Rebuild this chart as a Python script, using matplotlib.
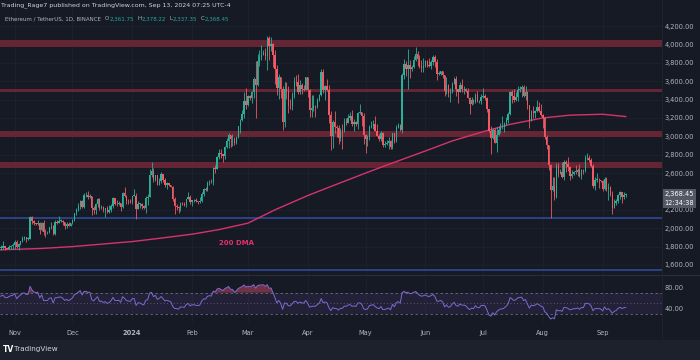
import numpy as np
import pandas as pd
import matplotlib
matplotlib.use('Agg')
import matplotlib.pyplot as plt
from matplotlib.patches import Rectangle

# ETH/USDT daily candles, Oct 23 2023 .. Sep 13 2024 (open = previous close)
first_open = 1664.0

c_oct = [1788, 1785, 1787, 1803, 1780, 1777, 1795, 1810, 1815]
h_oct = [1800, 1855, 1815, 1865, 1810, 1790, 1815, 1820, 1835]
l_oct = [1655, 1765, 1760, 1775, 1760, 1770, 1770, 1775, 1775]

c_nov = [1846, 1798, 1832, 1856, 1893, 1900, 1886, 1888, 2121, 2077, 2052, 2045, 2055, 1979, 2058,
         1962, 1958, 1963, 2012, 2022, 1933, 2063, 2062, 2081, 2083, 2063, 2028, 2049, 2029, 2052]
h_nov = [1868, 1868, 1835, 1860, 1912, 1913, 1907, 1902, 2135, 2136, 2087, 2055, 2090, 2064, 2065,
         2090, 1990, 1970, 2017, 2067, 2030, 2090, 2090, 2134, 2096, 2085, 2071, 2065, 2070, 2055]
l_nov = [1772, 1786, 1766, 1822, 1850, 1871, 1851, 1867, 1880, 2050, 2036, 2031, 2030, 1941, 1975,
         1930, 1900, 1935, 1951, 1990, 1930, 1931, 2045, 2057, 2066, 2035, 1993, 2003, 2022, 2025]

c_dec = [2087, 2166, 2193, 2242, 2294, 2232, 2358, 2359, 2344, 2353, 2225, 2202, 2261, 2316, 2220, 2228,
         2197, 2217, 2177, 2199, 2239, 2326, 2266, 2263, 2272, 2231, 2379, 2346, 2299, 2292, 2282]
h_dec = [2098, 2169, 2216, 2275, 2309, 2308, 2382, 2390, 2403, 2375, 2355, 2245, 2270, 2332, 2325, 2255,
         2243, 2223, 2240, 2250, 2259, 2345, 2328, 2305, 2296, 2275, 2393, 2446, 2365, 2322, 2323]
l_dec = [2049, 2081, 2145, 2189, 2212, 2217, 2223, 2339, 2323, 2324, 2145, 2160, 2153, 2230, 2200, 2207,
         2181, 2125, 2161, 2170, 2175, 2222, 2254, 2240, 2248, 2190, 2220, 2338, 2265, 2265, 2270]

c_jan = [2352, 2356, 2208, 2268, 2268, 2239, 2221, 2331, 2344, 2584, 2618, 2523, 2576, 2472, 2510, 2587,
         2528, 2467, 2490, 2470, 2453, 2313, 2241, 2236, 2218, 2268, 2266, 2258, 2317, 2344, 2283]
h_jan = [2353, 2432, 2383, 2295, 2278, 2270, 2258, 2356, 2369, 2643, 2717, 2657, 2581, 2584, 2544, 2610,
         2593, 2547, 2505, 2496, 2472, 2460, 2345, 2262, 2239, 2280, 2285, 2286, 2318, 2391, 2360]
l_jan = [2265, 2350, 2100, 2205, 2222, 2205, 2210, 2168, 2250, 2345, 2560, 2500, 2510, 2470, 2472, 2495,
         2505, 2445, 2430, 2460, 2450, 2300, 2160, 2200, 2170, 2190, 2250, 2245, 2230, 2315, 2260]

c_feb = [2305, 2308, 2296, 2290, 2298, 2373, 2424, 2419, 2487, 2506, 2500, 2658, 2643, 2778, 2823,
         2804, 2786, 2881, 2944, 3014, 2967, 2970, 2922, 2991, 3112, 3177, 3243, 3384, 3340]
h_feb = [2310, 2323, 2324, 2300, 2340, 2390, 2435, 2453, 2515, 2520, 2536, 2664, 2688, 2785, 2865,
         2858, 2810, 2895, 2985, 3032, 3015, 3030, 2990, 2995, 3115, 3190, 3285, 3487, 3522]
l_feb = [2240, 2280, 2290, 2265, 2270, 2290, 2355, 2410, 2410, 2475, 2491, 2475, 2600, 2640, 2758,
         2760, 2720, 2757, 2872, 2870, 2880, 2900, 2910, 2915, 2985, 3040, 3170, 3200, 3300]

c_mar = [3434, 3421, 3487, 3628, 3553, 3817, 3868, 3885, 3910, 3877, 4066, 3979, 4005, 3881, 3737, 3523,
         3644, 3520, 3158, 3516, 3493, 3333, 3329, 3454, 3590, 3589, 3487, 3562, 3510, 3508, 3647]
h_mar = [3451, 3451, 3497, 3650, 3823, 3900, 3940, 3995, 3940, 3960, 4094, 4090, 4083, 4010, 3935, 3780,
         3680, 3645, 3545, 3590, 3590, 3550, 3410, 3480, 3650, 3670, 3680, 3610, 3575, 3560, 3650]
l_mar = [3330, 3400, 3360, 3420, 3200, 3550, 3770, 3830, 3880, 3832, 3720, 3830, 3930, 3750, 3570, 3450,
         3410, 3415, 3065, 3100, 3410, 3250, 3300, 3290, 3420, 3550, 3460, 3465, 3460, 3490, 3500]

c_apr = [3505, 3281, 3311, 3330, 3319, 3398, 3454, 3697, 3505, 3545, 3504, 3234, 3008, 3156, 3102,
         3085, 2984, 3063, 3058, 3156, 3148, 3200, 3219, 3139, 3155, 3130, 3255, 3265, 3217, 3013]
h_apr = [3650, 3510, 3445, 3445, 3345, 3420, 3465, 3730, 3730, 3560, 3620, 3555, 3280, 3180, 3280,
         3125, 3125, 3095, 3130, 3195, 3200, 3240, 3260, 3290, 3190, 3165, 3260, 3350, 3240, 3250]
l_apr = [3430, 3210, 3210, 3270, 3210, 3310, 3385, 3440, 3470, 3400, 3490, 3150, 2850, 2870, 3040,
         2990, 2920, 2950, 2865, 3050, 3125, 3140, 3180, 3115, 3060, 3110, 3075, 3245, 3110, 2920]

c_may = [2969, 2988, 3102, 3117, 3137, 3063, 3005, 2975, 3036, 2910, 2912, 2930, 2950, 2881, 3036, 2945,
         3093, 3122, 3071, 3663, 3788, 3737, 3780, 3727, 3750, 3826, 3893, 3840, 3767, 3747, 3760]
h_may = [3025, 3015, 3125, 3170, 3175, 3220, 3130, 3030, 3055, 3050, 2945, 2955, 2995, 2955, 3040, 3040,
         3120, 3145, 3130, 3690, 3840, 3815, 3950, 3830, 3780, 3875, 3975, 3930, 3880, 3825, 3850]
l_may = [2815, 2890, 2955, 3095, 3075, 3055, 3000, 2950, 2945, 2885, 2885, 2905, 2865, 2860, 2860, 2930,
         2940, 3085, 3055, 3040, 3620, 3660, 3510, 3630, 3715, 3740, 3820, 3770, 3745, 3700, 3705]

c_jun = [3815, 3780, 3767, 3811, 3865, 3812, 3678, 3680, 3706, 3666, 3496, 3560, 3469, 3481, 3567,
         3624, 3511, 3483, 3559, 3512, 3518, 3495, 3419, 3354, 3392, 3371, 3449, 3379, 3380, 3432]
h_jun = [3835, 3835, 3850, 3830, 3890, 3880, 3840, 3715, 3715, 3710, 3670, 3645, 3565, 3530, 3590,
         3640, 3655, 3515, 3590, 3625, 3545, 3525, 3525, 3430, 3430, 3410, 3475, 3490, 3400, 3455]
l_jun = [3750, 3750, 3755, 3730, 3780, 3755, 3610, 3670, 3670, 3630, 3440, 3460, 3430, 3370, 3475,
         3565, 3440, 3360, 3480, 3480, 3455, 3485, 3415, 3240, 3340, 3355, 3365, 3370, 3365, 3355]

c_jul = [3437, 3422, 3292, 3062, 2983, 3068, 2931, 3019, 3065, 3101, 3102, 3130, 3177, 3247, 3486, 3444,
         3391, 3429, 3505, 3517, 3536, 3441, 3480, 3336, 3174, 3277, 3251, 3271, 3320, 3280, 3232]
h_jul = [3525, 3465, 3430, 3300, 3110, 3085, 3090, 3105, 3110, 3140, 3220, 3155, 3205, 3265, 3495, 3500,
         3515, 3485, 3545, 3545, 3555, 3560, 3545, 3490, 3345, 3290, 3330, 3290, 3400, 3370, 3350]
l_jul = [3420, 3400, 3260, 3045, 2810, 2975, 2925, 2825, 3010, 3040, 3080, 3050, 3125, 3150, 3235, 3360,
         3370, 3380, 3380, 3485, 3425, 3425, 3400, 3300, 3085, 3170, 3195, 3200, 3265, 3260, 3220]

c_aug = [3203, 2988, 2903, 2688, 2419, 2460, 2341, 2682, 2599, 2609, 2555, 2722, 2703, 2662, 2570, 2592,
         2614, 2613, 2637, 2572, 2630, 2622, 2763, 2768, 2746, 2681, 2457, 2528, 2529, 2524, 2513]
h_aug = [3245, 3215, 3015, 2910, 2700, 2555, 2560, 2715, 2705, 2645, 2720, 2740, 2740, 2780, 2680, 2635,
         2625, 2690, 2650, 2695, 2645, 2640, 2800, 2820, 2795, 2760, 2700, 2560, 2600, 2550, 2530]
l_aug = [3085, 2975, 2860, 2630, 2111, 2400, 2310, 2325, 2555, 2590, 2545, 2520, 2610, 2625, 2520, 2550,
         2580, 2595, 2570, 2560, 2540, 2595, 2610, 2745, 2725, 2670, 2440, 2420, 2500, 2435, 2500]

c_sep = [2425, 2538, 2424, 2449, 2366, 2222, 2272, 2296, 2358, 2389, 2340, 2361.75, 2368.45]
h_sep = [2525, 2555, 2555, 2490, 2455, 2410, 2315, 2315, 2370, 2400, 2390, 2390, 2378.22]
l_sep = [2400, 2420, 2410, 2310, 2350, 2150, 2220, 2250, 2270, 2320, 2275, 2320, 2337.35]

# closes Oct 1..22 2023, only used to warm up the RSI
rsi_seed = [1733, 1663, 1656, 1647, 1611, 1647, 1633, 1633, 1580, 1567, 1566, 1540, 1552, 1556,
            1556, 1601, 1566, 1565, 1568, 1604, 1628, 1664]

# 200 DMA
dma_dates = ['2023-10-23', '2023-11-01', '2023-11-15', '2023-12-01', '2023-12-15', '2024-01-01',
             '2024-01-15', '2024-02-01', '2024-02-15', '2024-03-01', '2024-03-15', '2024-04-01',
             '2024-04-15', '2024-05-01', '2024-05-15', '2024-06-01', '2024-06-15', '2024-07-01',
             '2024-07-15', '2024-08-01', '2024-08-15', '2024-09-01', '2024-09-13']
dma_vals = [1765, 1770, 1780, 1800, 1825, 1855, 1890, 1935, 1985, 2055, 2200, 2355, 2470, 2600,
            2710, 2840, 2950, 3050, 3130, 3200, 3230, 3240, 3215]

# horizontal zones (low, high)
red_zones = [(3970, 4045), (3478, 3520), (2990, 3062), (2660, 2720)]
blue_zones = [(2100, 2125), (1535, 1555)]

price_ticks = [1600, 1800, 2000, 2200, 2600, 2800, 3000, 3200, 3400, 3600, 3800, 4000, 4200]
month_starts = ['2023-11-01', '2023-12-01', '2024-01-01', '2024-02-01', '2024-03-01', '2024-04-01',
                '2024-05-01', '2024-06-01', '2024-07-01', '2024-08-01', '2024-09-01']
month_labels = ['Nov', 'Dec', '2024', 'Feb', 'Mar', 'Apr', 'May', 'Jun', 'Jul', 'Aug', 'Sep']

header_top = 'Trading_Rage7 published on TradingView.com, Sep 13, 2024 07:25 UTC-4'
header_sym = 'Ethereum / TetherUS, 1D, BINANCE'
header_ohlc = [('O', '2,361.75'), ('H', '2,378.22'), ('L', '2,337.35'), ('C', '2,368.45')]

BG = '#161a25'
BAR_BG = '#1d212c'
GREEN = '#2bb09a'
RED = '#ef5a64'
TXT = '#b2b5be'
GRID = '#1f2330'
W, H = 700, 360


def px(x, y):
    return x / W, 1 - y / H


start = pd.Timestamp('2023-10-23')
closes = np.array(c_oct + c_nov + c_dec + c_jan + c_feb + c_mar + c_apr + c_may + c_jun + c_jul
                  + c_aug + c_sep, dtype=float)
highs = np.array(h_oct + h_nov + h_dec + h_jan + h_feb + h_mar + h_apr + h_may + h_jun + h_jul
                 + h_aug + h_sep, dtype=float)
lows = np.array(l_oct + l_nov + l_dec + l_jan + l_feb + l_mar + l_apr + l_may + l_jun + l_jul
                + l_aug + l_sep, dtype=float)
opens = np.concatenate([[first_open], closes[:-1]])
highs = np.maximum(highs, np.maximum(opens, closes))
lows = np.minimum(lows, np.minimum(opens, closes))
x = np.arange(len(closes))

# RSI 14 (Wilder)
allc = np.array(rsi_seed + list(closes))
d = np.diff(allc)
up = np.clip(d, 0, None)
dn = np.clip(-d, 0, None)
rsi_full = np.full(len(allc), np.nan)
au, ad = up[:14].mean(), dn[:14].mean()
rsi_full[14] = 100 - 100 / (1 + au / ad)
for i in range(14, len(d)):
    au = (au * 13 + up[i]) / 14
    ad = (ad * 13 + dn[i]) / 14
    rsi_full[i + 1] = 100 - 100 / (1 + au / ad)
rsi = rsi_full[len(rsi_seed):]


def day_index(s):
    return (pd.Timestamp(s) - start).days


xlim = (1.4, 344.8)
month_x = [day_index(m) for m in month_starts]

fig = plt.figure(figsize=(7, 3.6), dpi=100)
fig.patch.set_facecolor(BG)

# ---- price pane
ax = fig.add_axes([0, (H - 274) / H, 662 / W, 274 / H])
ax.set_facecolor(BG)
ax.set_xlim(*xlim)
ax.set_ylim(1502, 4483)
for v in price_ticks:
    ax.axhline(v, color=GRID, lw=0.5, zorder=0)
for m in month_x:
    ax.axvline(m, color=GRID, lw=0.5, zorder=0)
for lo, hi in red_zones:
    ax.axhspan(lo, hi, color='#6e2736', alpha=0.9, lw=0, zorder=1)
for lo, hi in blue_zones:
    ax.axhspan(lo, hi, color='#2c4488', alpha=0.95, lw=0, zorder=1)

colors = np.where(closes >= opens, GREEN, RED)
ax.vlines(x, lows, highs, colors=colors, lw=0.6, zorder=3)
ax.bar(x, np.maximum(np.abs(closes - opens), 6), bottom=np.minimum(opens, closes),
       width=0.7, color=colors, lw=0, zorder=4)

dma_x = [day_index(s) for s in dma_dates]
ax.plot(dma_x, dma_vals, color='#d6336c', lw=1.0, zorder=2)
ax.text(124, 1839, '200 DMA', color='#e0306a', fontsize=5, ha='center', va='center',
        fontweight='bold')

ax.yaxis.tick_right()
ax.set_yticks(price_ticks)
ax.set_yticklabels([f'{v:,.2f}' for v in price_ticks])
ax.tick_params(axis='y', length=0, pad=2, labelsize=4.8, labelcolor=TXT)
ax.set_xticks([])
for s in ax.spines.values():
    s.set_visible(False)

# ---- RSI pane
ax2 = fig.add_axes([0, (H - 322) / H, 662 / W, 48 / H])
ax2.set_facecolor(BG)
ax2.set_xlim(*xlim)
ax2.set_ylim(15, 105)
for m in month_x:
    ax2.axvline(m, color=GRID, lw=0.5, zorder=0)
ax2.axhspan(30, 70, color='#7e57c2', alpha=0.12, lw=0)
for lvl, ls in [(70, (0, (3, 3))), (50, (0, (1, 3))), (30, (0, (3, 3)))]:
    ax2.axhline(lvl, color='#6a6d78', lw=0.6, ls=ls)
ax2.plot(x, rsi, color='#7e6ad0', lw=0.7)
ax2.fill_between(x, 70, rsi, where=rsi > 70, color='#e0506a', alpha=0.45, lw=0, interpolate=True)
ax2.yaxis.tick_right()
ax2.set_yticks([40, 80])
ax2.set_yticklabels(['40.00', '80.00'])
ax2.tick_params(axis='y', length=0, pad=2, labelsize=4.8, labelcolor=TXT)
ax2.set_xticks(month_x)
ax2.set_xticklabels(month_labels)
ax2.tick_params(axis='x', length=0, pad=5.5, labelsize=4.8, labelcolor=TXT)
for lab in ax2.get_xticklabels():
    if lab.get_text() == '2024':
        lab.set_fontweight('bold')
for s in ax2.spines.values():
    s.set_visible(False)

# pane separator
fig.add_artist(plt.Line2D([0, 1], [px(0, 274.5)[1]] * 2, color='#2a2e39', lw=0.8))
fig.add_artist(plt.Line2D([662 / W] * 2, [px(0, 340)[1], 1], color='#23272f', lw=0.5))

# bottom bar
fig.add_artist(Rectangle((0, 0), 1, 20 / H, transform=fig.transFigure, color=BAR_BG, lw=0))
fig.text(*px(3, 349), 'TV', color='white', fontsize=5.5, fontweight='bold', va='center')
fig.text(*px(13.5, 349), 'TradingView', color='#d1d4dc', fontsize=5.2, va='center')

# header
fig.text(*px(1, 5), header_top, color='#d1d4dc', fontsize=4.5, va='center')
renderer = fig.canvas.get_renderer()
cur = 5.0
pieces = [(header_sym, '#b2b5be', 4.0)]
for letter, val in header_ohlc:
    pieces.append((letter, '#b2b5be', 0.6))
    pieces.append((val, '#26a69a', 3.0))
for txt, col, gap in pieces:
    t = fig.text(*px(cur, 19), txt, color=col, fontsize=4.0, va='center')
    bb = t.get_window_extent(renderer)
    cur = bb.x1 + gap

# last price label
fig.add_artist(Rectangle(px(663, 208), 33 / W, 19 / H, transform=fig.transFigure,
                         color='#545864', lw=0))
fig.text(*px(679.5, 194), '2,368.45', color='white', fontsize=4.8, ha='center', va='center')
fig.text(*px(679.5, 203), '12:34:38', color='white', fontsize=4.8, ha='center', va='center')

fig.savefig('out.png', dpi=100, facecolor=BG)
